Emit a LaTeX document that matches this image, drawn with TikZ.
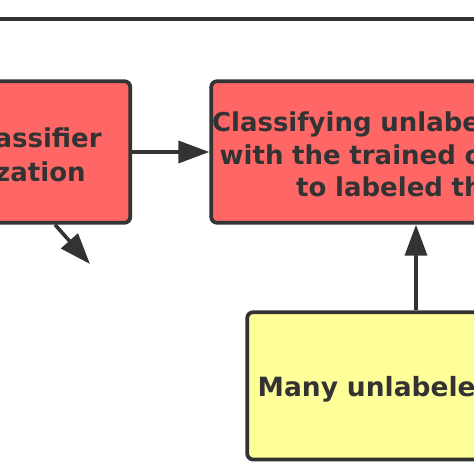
\documentclass[tikz,border=0pt]{standalone}
\usepackage{fontspec}
\setmainfont{DejaVu Sans}
\usetikzlibrary{arrows.meta}
\definecolor{boxred}{HTML}{FF6666}
\definecolor{boxyellow}{HTML}{FFFF99}
\definecolor{ink}{HTML}{333333}
\begin{document}
\begin{tikzpicture}[x=1pt,y=-1pt,
  box/.style={draw=ink, line width=3.8pt, rounded corners=6pt, text=ink, inner xsep=0pt, inner ysep=0pt},
  redbox/.style={box, fill=boxred},
  yellowbox/.style={box, fill=boxyellow},
  arrow/.style={draw=ink, line width=3.6pt, -{Triangle[length=31pt,width=22pt]}},
  frame/.style={draw=ink, line width=3.8pt}]
\useasboundingbox (0,0) rectangle (474,474);
\clip (0,0) rectangle (474,474);
\fill[white] (0,0) rectangle (474,474);
\draw[frame] (-200,19.3) rectangle (800,800);
\node[redbox, minimum width=280.3pt, minimum height=141.6pt, text width=223.1pt, align=right,
  font=\bfseries\fontsize{26}{34.4}\selectfont] (cls) at (-9.85,152)
  {\rule{0pt}{25pt}Classifier\\initialization\rule{16.1pt}{0pt}};
\node[redbox, minimum width=488.8pt, minimum height=141.6pt, text width=487.2pt, align=left,
  font=\bfseries\fontsize{26}{32.5}\selectfont] (rbox) at (455.6,152)
  {\rule{0pt}{25pt}Classifying unlabeled data\\\hspace*{7.7pt}with the trained classifier\\\hspace*{84.2pt}to labeled them};
\node[yellowbox, minimum width=392.8pt, minimum height=147.3pt, text width=371.8pt, align=left,
  font=\bfseries\fontsize{26.5}{32.5}\selectfont] (yel) at (443.6,385.85)
  {\rule[-7.6pt]{0pt}{36.9pt}Many unlabeled data};
\coordinate (dend) at (90,264);
\coordinate (vx) at (416,0);
\draw[arrow] (cls.east) -- (rbox.west);
\draw[arrow] ([xshift=-77.2pt]cls.south east) -- (dend);
\draw[arrow] (yel.north -| vx) -- (rbox.south -| vx);
\end{tikzpicture}
\end{document}
